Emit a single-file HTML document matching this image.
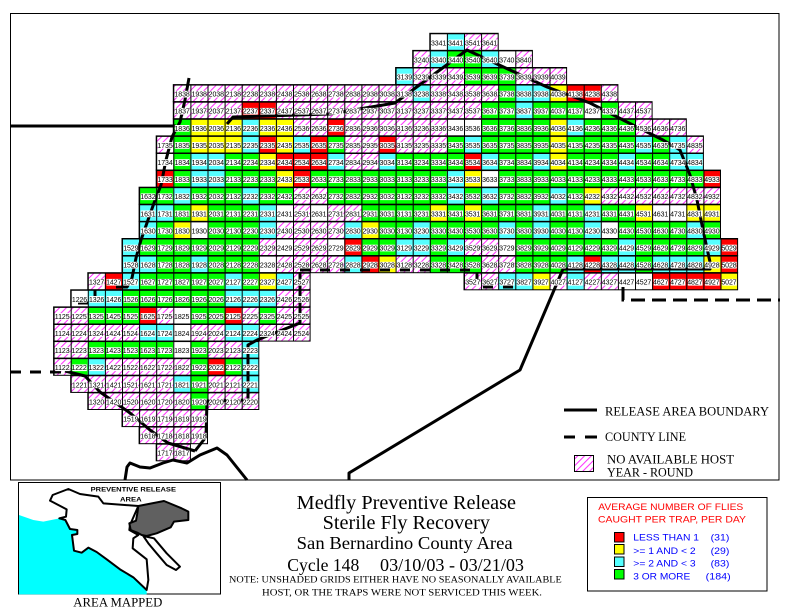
<!DOCTYPE html>
<html><head><meta charset="utf-8"><style>
html,body{margin:0;padding:0;background:#fff}
svg{display:block}
.G{fill:#00ff00}.Y{fill:#ffff00}.R{fill:#ff0000}.C{fill:#55ffff}.H{fill:url(#hat)}.W{fill:#fff}
.gr{fill:url(#grid);stroke:#000;stroke-width:1}
.lb{fill:url(#lab)}
text.n{font-family:"Liberation Sans",sans-serif;font-size:7px;fill:#000}
.sf{font-family:"Liberation Serif",serif;fill:#000}
.ss{font-family:"Liberation Sans",sans-serif}
.bl{fill:none;stroke:#000;stroke-width:3;stroke-linejoin:round;stroke-linecap:butt}
</style></head><body>
<svg width="790" height="614" viewBox="0 0 790 614" xmlns="http://www.w3.org/2000/svg">
<defs>
<pattern id="hat" patternUnits="userSpaceOnUse" width="6.8" height="6.8"><rect width="6.8" height="6.8" fill="#fff"/><path d="M-1,1 L1,-1 M0,6.8 L6.8,0 M5.8,7.8 L7.8,5.8" stroke="#ff00ff" stroke-width="0.8"/></pattern>
<pattern id="grid" patternUnits="userSpaceOnUse" width="17.1" height="17.1"><path d="M0.5,0 V17.1 M0,0.5 H17.1" stroke="#000" stroke-width="1" fill="none"/></pattern>
<pattern id="lab" patternUnits="userSpaceOnUse" width="17.1" height="17.1"><rect x="1.6" y="0" width="14.6" height="17.1" fill="#fff"/></pattern>
</defs>
<rect width="790" height="614" fill="#fff"/>
<rect x="10.5" y="13.5" width="768.5" height="466.5" fill="none" stroke="#000" stroke-width="1"/>

<g transform="translate(53.6,33.3)">
<g transform="translate(0,0)"><rect class="W" x="376.2" width="17.1" height="17.1"/><rect class="C" x="393.3" width="17.1" height="17.1"/><rect class="H" x="410.4" width="34.2" height="17.1"/><rect class="gr" x="376.2" width="68.4" height="17.1"/></g>
<g transform="translate(0,17.1)"><rect class="H" x="359.1" width="17.1" height="17.1"/><rect class="C" x="376.2" width="17.1" height="17.1"/><rect class="G" x="393.3" width="34.2" height="17.1"/><rect class="C" x="427.5" width="17.1" height="17.1"/><rect class="W" x="444.6" width="17.1" height="17.1"/><rect class="H" x="461.7" width="17.1" height="17.1"/><rect class="gr" x="359.1" width="119.7" height="17.1"/></g>
<g transform="translate(0,34.2)"><rect class="C" x="342" width="17.1" height="17.1"/><rect class="H" x="359.1" width="51.3" height="17.1"/><rect class="G" x="410.4" width="51.3" height="17.1"/><rect class="H" x="461.7" width="51.3" height="17.1"/><rect class="gr" x="342" width="171" height="17.1"/></g>
<g transform="translate(0,51.3)"><rect class="H" x="119.7" width="239.4" height="17.1"/><rect class="C" x="359.1" width="17.1" height="17.1"/><rect class="H" x="376.2" width="68.4" height="17.1"/><rect class="G" x="444.6" width="17.1" height="17.1"/><rect class="C" x="461.7" width="34.2" height="17.1"/><rect class="Y" x="495.9" width="17.1" height="17.1"/><rect class="R" x="513" width="34.2" height="17.1"/><rect class="H" x="547.2" width="17.1" height="17.1"/><rect class="gr" x="119.7" width="444.6" height="17.1"/></g>
<g transform="translate(0,68.4)"><rect class="H" x="119.7" width="68.4" height="17.1"/><rect class="R" x="188.1" width="34.2" height="17.1"/><rect class="H" x="222.3" width="205.2" height="17.1"/><rect class="G" x="427.5" width="34.2" height="17.1"/><rect class="C" x="461.7" width="17.1" height="17.1"/><rect class="G" x="478.8" width="51.3" height="17.1"/><rect class="W" x="530.1" width="17.1" height="17.1"/><rect class="G" x="547.2" width="17.1" height="17.1"/><rect class="H" x="564.3" width="34.2" height="17.1"/><rect class="gr" x="119.7" width="478.8" height="17.1"/></g>
<g transform="translate(0,85.5)"><rect class="G" x="119.7" width="17.1" height="17.1"/><rect class="Y" x="136.8" width="51.3" height="17.1"/><rect class="C" x="188.1" width="17.1" height="17.1"/><rect class="Y" x="205.2" width="34.2" height="17.1"/><rect class="H" x="239.4" width="34.2" height="17.1"/><rect class="R" x="273.6" width="17.1" height="17.1"/><rect class="H" x="290.7" width="102.6" height="17.1"/><rect class="W" x="393.3" width="34.2" height="17.1"/><rect class="G" x="427.5" width="68.4" height="17.1"/><rect class="Y" x="495.9" width="17.1" height="17.1"/><rect class="C" x="513" width="17.1" height="17.1"/><rect class="G" x="530.1" width="51.3" height="17.1"/><rect class="H" x="581.4" width="51.3" height="17.1"/><rect class="gr" x="119.7" width="513" height="17.1"/></g>
<g transform="translate(0,102.6)"><rect class="H" x="102.6" width="17.1" height="17.1"/><rect class="G" x="119.7" width="17.1" height="17.1"/><rect class="Y" x="136.8" width="51.3" height="17.1"/><rect class="C" x="188.1" width="17.1" height="17.1"/><rect class="R" x="205.2" width="17.1" height="17.1"/><rect class="Y" x="222.3" width="17.1" height="17.1"/><rect class="C" x="239.4" width="17.1" height="17.1"/><rect class="R" x="256.5" width="17.1" height="17.1"/><rect class="G" x="273.6" width="17.1" height="17.1"/><rect class="H" x="290.7" width="34.2" height="17.1"/><rect class="R" x="324.9" width="17.1" height="17.1"/><rect class="H" x="342" width="51.3" height="17.1"/><rect class="G" x="393.3" width="17.1" height="17.1"/><rect class="C" x="410.4" width="17.1" height="17.1"/><rect class="G" x="427.5" width="68.4" height="17.1"/><rect class="Y" x="495.9" width="17.1" height="17.1"/><rect class="G" x="513" width="68.4" height="17.1"/><rect class="C" x="581.4" width="17.1" height="17.1"/><rect class="G" x="598.5" width="17.1" height="17.1"/><rect class="C" x="615.6" width="17.1" height="17.1"/><rect class="H" x="632.7" width="17.1" height="17.1"/><rect class="gr" x="102.6" width="547.2" height="17.1"/></g>
<g transform="translate(0,119.7)"><rect class="W" x="102.6" width="17.1" height="17.1"/><rect class="G" x="119.7" width="17.1" height="17.1"/><rect class="C" x="136.8" width="34.2" height="17.1"/><rect class="G" x="171" width="34.2" height="17.1"/><rect class="Y" x="205.2" width="17.1" height="17.1"/><rect class="R" x="222.3" width="51.3" height="17.1"/><rect class="C" x="273.6" width="17.1" height="17.1"/><rect class="H" x="290.7" width="34.2" height="17.1"/><rect class="C" x="324.9" width="17.1" height="17.1"/><rect class="G" x="342" width="68.4" height="17.1"/><rect class="R" x="410.4" width="17.1" height="17.1"/><rect class="C" x="427.5" width="17.1" height="17.1"/><rect class="G" x="444.6" width="34.2" height="17.1"/><rect class="C" x="478.8" width="17.1" height="17.1"/><rect class="Y" x="495.9" width="17.1" height="17.1"/><rect class="G" x="513" width="51.3" height="17.1"/><rect class="C" x="564.3" width="17.1" height="17.1"/><rect class="G" x="581.4" width="34.2" height="17.1"/><rect class="C" x="615.6" width="34.2" height="17.1"/><rect class="gr" x="102.6" width="547.2" height="17.1"/></g>
<g transform="translate(0,136.8)"><rect class="R" x="102.6" width="17.1" height="17.1"/><rect class="G" x="119.7" width="17.1" height="17.1"/><rect class="C" x="136.8" width="34.2" height="17.1"/><rect class="G" x="171" width="51.3" height="17.1"/><rect class="Y" x="222.3" width="17.1" height="17.1"/><rect class="R" x="239.4" width="17.1" height="17.1"/><rect class="G" x="256.5" width="136.8" height="17.1"/><rect class="C" x="393.3" width="17.1" height="17.1"/><rect class="Y" x="410.4" width="17.1" height="17.1"/><rect class="W" x="427.5" width="17.1" height="17.1"/><rect class="G" x="444.6" width="205.2" height="17.1"/><rect class="R" x="649.8" width="17.1" height="17.1"/><rect class="gr" x="102.6" width="564.3" height="17.1"/></g>
<g transform="translate(0,153.9)"><rect class="G" x="85.5" width="34.2" height="17.1"/><rect class="C" x="119.7" width="17.1" height="17.1"/><rect class="G" x="136.8" width="51.3" height="17.1"/><rect class="C" x="188.1" width="17.1" height="17.1"/><rect class="G" x="205.2" width="34.2" height="17.1"/><rect class="H" x="239.4" width="34.2" height="17.1"/><rect class="G" x="273.6" width="119.7" height="17.1"/><rect class="C" x="393.3" width="17.1" height="17.1"/><rect class="G" x="410.4" width="17.1" height="17.1"/><rect class="C" x="427.5" width="17.1" height="17.1"/><rect class="G" x="444.6" width="51.3" height="17.1"/><rect class="C" x="495.9" width="17.1" height="17.1"/><rect class="G" x="513" width="17.1" height="17.1"/><rect class="Y" x="530.1" width="17.1" height="17.1"/><rect class="H" x="547.2" width="119.7" height="17.1"/><rect class="gr" x="85.5" width="581.4" height="17.1"/></g>
<g transform="translate(0,171)"><rect class="C" x="85.5" width="34.2" height="17.1"/><rect class="G" x="119.7" width="17.1" height="17.1"/><rect class="Y" x="136.8" width="17.1" height="17.1"/><rect class="G" x="153.9" width="51.3" height="17.1"/><rect class="C" x="205.2" width="17.1" height="17.1"/><rect class="W" x="222.3" width="17.1" height="17.1"/><rect class="H" x="239.4" width="17.1" height="17.1"/><rect class="W" x="256.5" width="17.1" height="17.1"/><rect class="H" x="273.6" width="34.2" height="17.1"/><rect class="G" x="307.8" width="68.4" height="17.1"/><rect class="Y" x="376.2" width="17.1" height="17.1"/><rect class="G" x="393.3" width="17.1" height="17.1"/><rect class="Y" x="410.4" width="17.1" height="17.1"/><rect class="G" x="427.5" width="51.3" height="17.1"/><rect class="C" x="478.8" width="17.1" height="17.1"/><rect class="G" x="495.9" width="34.2" height="17.1"/><rect class="C" x="530.1" width="17.1" height="17.1"/><rect class="G" x="547.2" width="34.2" height="17.1"/><rect class="Y" x="581.4" width="17.1" height="17.1"/><rect class="W" x="598.5" width="34.2" height="17.1"/><rect class="Y" x="632.7" width="34.2" height="17.1"/><rect class="gr" x="85.5" width="581.4" height="17.1"/></g>
<g transform="translate(0,188.1)"><rect class="C" x="85.5" width="17.1" height="17.1"/><rect class="G" x="102.6" width="17.1" height="17.1"/><rect class="Y" x="119.7" width="17.1" height="17.1"/><rect class="W" x="136.8" width="17.1" height="17.1"/><rect class="G" x="153.9" width="51.3" height="17.1"/><rect class="C" x="205.2" width="17.1" height="17.1"/><rect class="H" x="222.3" width="68.4" height="17.1"/><rect class="C" x="290.7" width="17.1" height="17.1"/><rect class="Y" x="307.8" width="17.1" height="17.1"/><rect class="G" x="324.9" width="34.2" height="17.1"/><rect class="C" x="359.1" width="17.1" height="17.1"/><rect class="G" x="376.2" width="68.4" height="17.1"/><rect class="C" x="444.6" width="17.1" height="17.1"/><rect class="G" x="461.7" width="17.1" height="17.1"/><rect class="C" x="478.8" width="17.1" height="17.1"/><rect class="G" x="495.9" width="34.2" height="17.1"/><rect class="C" x="530.1" width="17.1" height="17.1"/><rect class="W" x="547.2" width="17.1" height="17.1"/><rect class="G" x="564.3" width="68.4" height="17.1"/><rect class="C" x="632.7" width="17.1" height="17.1"/><rect class="G" x="649.8" width="17.1" height="17.1"/><rect class="gr" x="85.5" width="581.4" height="17.1"/></g>
<g transform="translate(0,205.2)"><rect class="C" x="68.4" width="17.1" height="17.1"/><rect class="G" x="85.5" width="119.7" height="17.1"/><rect class="H" x="205.2" width="17.1" height="17.1"/><rect class="W" x="222.3" width="17.1" height="17.1"/><rect class="H" x="239.4" width="34.2" height="17.1"/><rect class="W" x="273.6" width="17.1" height="17.1"/><rect class="R" x="290.7" width="17.1" height="17.1"/><rect class="G" x="307.8" width="34.2" height="17.1"/><rect class="C" x="342" width="34.2" height="17.1"/><rect class="G" x="376.2" width="17.1" height="17.1"/><rect class="C" x="393.3" width="17.1" height="17.1"/><rect class="H" x="410.4" width="34.2" height="17.1"/><rect class="W" x="444.6" width="17.1" height="17.1"/><rect class="G" x="461.7" width="102.6" height="17.1"/><rect class="C" x="564.3" width="17.1" height="17.1"/><rect class="G" x="581.4" width="68.4" height="17.1"/><rect class="C" x="649.8" width="17.1" height="17.1"/><rect class="R" x="666.9" width="17.1" height="17.1"/><rect class="gr" x="68.4" width="615.6" height="17.1"/></g>
<g transform="translate(0,222.3)"><rect class="C" x="68.4" width="34.2" height="17.1"/><rect class="G" x="102.6" width="34.2" height="17.1"/><rect class="C" x="136.8" width="17.1" height="17.1"/><rect class="G" x="153.9" width="51.3" height="17.1"/><rect class="W" x="205.2" width="17.1" height="17.1"/><rect class="H" x="222.3" width="68.4" height="17.1"/><rect class="C" x="290.7" width="17.1" height="17.1"/><rect class="R" x="307.8" width="17.1" height="17.1"/><rect class="Y" x="324.9" width="17.1" height="17.1"/><rect class="H" x="342" width="34.2" height="17.1"/><rect class="G" x="376.2" width="51.3" height="17.1"/><rect class="H" x="427.5" width="34.2" height="17.1"/><rect class="G" x="461.7" width="51.3" height="17.1"/><rect class="C" x="513" width="17.1" height="17.1"/><rect class="R" x="530.1" width="17.1" height="17.1"/><rect class="C" x="547.2" width="34.2" height="17.1"/><rect class="G" x="581.4" width="17.1" height="17.1"/><rect class="C" x="598.5" width="51.3" height="17.1"/><rect class="Y" x="649.8" width="17.1" height="17.1"/><rect class="R" x="666.9" width="17.1" height="17.1"/><rect class="gr" x="68.4" width="615.6" height="17.1"/></g>
<g transform="translate(0,239.4)"><rect class="H" x="34.2" width="17.1" height="17.1"/><rect class="R" x="51.3" width="17.1" height="17.1"/><rect class="C" x="68.4" width="17.1" height="17.1"/><rect class="G" x="85.5" width="85.5" height="17.1"/><rect class="C" x="171" width="17.1" height="17.1"/><rect class="G" x="188.1" width="17.1" height="17.1"/><rect class="Y" x="205.2" width="17.1" height="17.1"/><rect class="C" x="222.3" width="17.1" height="17.1"/><rect class="H" x="239.4" width="17.1" height="17.1"/><rect class="gr" x="34.2" width="222.3" height="17.1"/>
<rect class="H" x="410.4" width="34.2" height="17.1"/><rect class="C" x="444.6" width="34.2" height="17.1"/><rect class="Y" x="478.8" width="17.1" height="17.1"/><rect class="H" x="495.9" width="17.1" height="17.1"/><rect class="C" x="513" width="17.1" height="17.1"/><rect class="H" x="530.1" width="34.2" height="17.1"/><rect class="W" x="564.3" width="34.2" height="17.1"/><rect class="R" x="598.5" width="68.4" height="17.1"/><rect class="Y" x="666.9" width="17.1" height="17.1"/><rect class="gr" x="410.4" width="273.6" height="17.1"/></g>
<g transform="translate(0,256.5)"><rect class="W" x="17.1" width="17.1" height="17.1"/><rect class="C" x="34.2" width="34.2" height="17.1"/><rect class="G" x="68.4" width="102.6" height="17.1"/><rect class="C" x="171" width="51.3" height="17.1"/><rect class="H" x="222.3" width="34.2" height="17.1"/><rect class="gr" x="17.1" width="239.4" height="17.1"/></g>
<g transform="translate(0,273.6)"><rect class="H" x="0" width="34.2" height="17.1"/><rect class="G" x="34.2" width="51.3" height="17.1"/><rect class="R" x="85.5" width="17.1" height="17.1"/><rect class="H" x="102.6" width="17.1" height="17.1"/><rect class="W" x="119.7" width="17.1" height="17.1"/><rect class="G" x="136.8" width="34.2" height="17.1"/><rect class="R" x="171" width="17.1" height="17.1"/><rect class="H" x="188.1" width="17.1" height="17.1"/><rect class="G" x="205.2" width="17.1" height="17.1"/><rect class="H" x="222.3" width="34.2" height="17.1"/><rect class="gr" x="0" width="256.5" height="17.1"/></g>
<g transform="translate(0,290.7)"><rect class="H" x="0" width="85.5" height="17.1"/><rect class="C" x="85.5" width="34.2" height="17.1"/><rect class="W" x="119.7" width="17.1" height="17.1"/><rect class="H" x="136.8" width="34.2" height="17.1"/><rect class="C" x="171" width="34.2" height="17.1"/><rect class="H" x="205.2" width="51.3" height="17.1"/><rect class="gr" x="0" width="256.5" height="17.1"/></g>
<g transform="translate(0,307.8)"><rect class="H" x="0" width="34.2" height="17.1"/><rect class="G" x="34.2" width="85.5" height="17.1"/><rect class="W" x="119.7" width="17.1" height="17.1"/><rect class="G" x="136.8" width="17.1" height="17.1"/><rect class="H" x="153.9" width="34.2" height="17.1"/><rect class="C" x="188.1" width="17.1" height="17.1"/><rect class="gr" x="0" width="205.2" height="17.1"/></g>
<g transform="translate(0,324.9)"><rect class="H" x="0" width="17.1" height="17.1"/><rect class="G" x="17.1" width="17.1" height="17.1"/><rect class="C" x="34.2" width="17.1" height="17.1"/><rect class="H" x="51.3" width="85.5" height="17.1"/><rect class="G" x="136.8" width="17.1" height="17.1"/><rect class="R" x="153.9" width="17.1" height="17.1"/><rect class="G" x="171" width="17.1" height="17.1"/><rect class="C" x="188.1" width="17.1" height="17.1"/><rect class="gr" x="0" width="205.2" height="17.1"/></g>
<g transform="translate(0,342)"><rect class="H" x="17.1" width="102.6" height="17.1"/><rect class="C" x="119.7" width="17.1" height="17.1"/><rect class="G" x="136.8" width="17.1" height="17.1"/><rect class="H" x="153.9" width="34.2" height="17.1"/><rect class="C" x="188.1" width="17.1" height="17.1"/><rect class="gr" x="17.1" width="188.1" height="17.1"/></g>
<g transform="translate(0,359.1)"><rect class="H" x="34.2" width="102.6" height="17.1"/><rect class="G" x="136.8" width="17.1" height="17.1"/><rect class="H" x="153.9" width="51.3" height="17.1"/><rect class="gr" x="34.2" width="171" height="17.1"/></g>
<g transform="translate(0,376.2)"><rect class="H" x="68.4" width="85.5" height="17.1"/><rect class="gr" x="68.4" width="85.5" height="17.1"/></g>
<g transform="translate(0,393.3)"><rect class="H" x="85.5" width="68.4" height="17.1"/><rect class="gr" x="85.5" width="68.4" height="17.1"/></g>
<g transform="translate(0,410.4)"><rect class="H" x="102.6" width="34.2" height="17.1"/><rect class="gr" x="102.6" width="34.2" height="17.1"/></g>
</g>

<!-- release area boundary lines -->
<path class="bl" d="M10,126 H176"/>
<path class="bl" d="M189,78 L185,100 L180,122 L172,137 L166,160 L161,185 L154,203 L148,220 L141,240 L136,258 L132,278 L127,287 L116,287"/>
<path class="bl" d="M227,124 L233,117 L330,114 L395,103 L467,50 L510,70 L547,87 L590,103 L627,122 L663,140 L680,150 L690,175 L697,200 L703,230 L710,262 L710,269 L563,269 L520,370 L349,473 L349,480"/>
<path class="bl" d="M125,480 L127,467 L130,463 L140,467 L150,468 L163,463 L173,460 L187,463 L200,455 L217,448 L227,455 L247,480"/>
<path class="bl" d="M65,371 L85,376 L100,392 L130,413 L150,430 L168,443 L195,451"/>
<path class="bl" d="M300,272 L300,323 L257,340 L248,345 L248,400 L207,401 L206,437 L195,451"/>
<!-- county line -->
<path d="M300,270 H477 V287 H515" fill="none" stroke="#000" stroke-width="3" stroke-dasharray="10 10"/>
<path d="M623,287 V300 H780" fill="none" stroke="#000" stroke-width="3" stroke-dasharray="14 7"/>
<path d="M10,372 H62" fill="none" stroke="#000" stroke-width="3" stroke-dasharray="11 9"/>
<path d="M78,303 H88 M95,290 V296" fill="none" stroke="#000" stroke-width="3"/>

<g transform="translate(53.6,33.3)">
<rect class="lb" x="376.2" y="6.2" width="68.4" height="6.7"/>
<rect class="lb" x="359.1" y="23.3" width="119.7" height="6.7"/>
<rect class="lb" x="342" y="40.4" width="171" height="6.7"/>
<rect class="lb" x="119.7" y="57.5" width="444.6" height="6.7"/>
<rect class="lb" x="119.7" y="74.6" width="478.8" height="6.7"/>
<rect class="lb" x="119.7" y="91.7" width="513" height="6.7"/>
<rect class="lb" x="102.6" y="108.8" width="547.2" height="6.7"/>
<rect class="lb" x="102.6" y="125.9" width="547.2" height="6.7"/>
<rect class="lb" x="102.6" y="143" width="564.3" height="6.7"/>
<rect class="lb" x="85.5" y="160.1" width="581.4" height="6.7"/>
<rect class="lb" x="85.5" y="177.2" width="581.4" height="6.7"/>
<rect class="lb" x="85.5" y="194.3" width="581.4" height="6.7"/>
<rect class="lb" x="68.4" y="211.4" width="615.6" height="6.7"/>
<rect class="lb" x="68.4" y="228.5" width="615.6" height="6.7"/>
<rect class="lb" x="34.2" y="245.6" width="222.3" height="6.7"/>
<rect class="lb" x="410.4" y="245.6" width="273.6" height="6.7"/>
<rect class="lb" x="17.1" y="262.7" width="239.4" height="6.7"/>
<rect class="lb" x="0" y="279.8" width="256.5" height="6.7"/>
<rect class="lb" x="0" y="296.9" width="256.5" height="6.7"/>
<rect class="lb" x="0" y="314" width="205.2" height="6.7"/>
<rect class="lb" x="0" y="331.1" width="205.2" height="6.7"/>
<rect class="lb" x="17.1" y="348.2" width="188.1" height="6.7"/>
<rect class="lb" x="34.2" y="365.3" width="171" height="6.7"/>
<rect class="lb" x="68.4" y="382.4" width="85.5" height="6.7"/>
<rect class="lb" x="85.5" y="399.5" width="68.4" height="6.7"/>
<rect class="lb" x="102.6" y="416.6" width="34.2" height="6.7"/>

<text class="n" x="377.4" y="12" textLength="66.3" lengthAdjust="spacing">3341 3441 3541 3641</text>
<text class="n" x="360.3" y="29.1" textLength="117.6" lengthAdjust="spacing">3240 3340 3440 3540 3640 3740 3840</text>
<text class="n" x="343.2" y="46.2" textLength="168.9" lengthAdjust="spacing">3139 3239 3339 3439 3539 3639 3739 3839 3939 4039</text>
<text class="n" x="120.9" y="63.3" textLength="442.5" lengthAdjust="spacing">1838 1938 2038 2138 2238 2338 2438 2538 2638 2738 2838 2938 3038 3138 3238 3338 3438 3538 3638 3738 3838 3938 4038 4138 4238 4338</text>
<text class="n" x="120.9" y="80.4" textLength="476.7" lengthAdjust="spacing">1837 1937 2037 2137 2237 2337 2437 2537 2637 2737 2837 2937 3037 3137 3237 3337 3437 3537 3637 3737 3837 3937 4037 4137 4237 4337 4437 4537</text>
<text class="n" x="120.9" y="97.5" textLength="510.9" lengthAdjust="spacing">1836 1936 2036 2136 2236 2336 2436 2536 2636 2736 2836 2936 3036 3136 3236 3336 3436 3536 3636 3736 3836 3936 4036 4136 4236 4336 4436 4536 4636 4736</text>
<text class="n" x="103.8" y="114.6" textLength="545.1" lengthAdjust="spacing">1735 1835 1935 2035 2135 2235 2335 2435 2535 2635 2735 2835 2935 3035 3135 3235 3335 3435 3535 3635 3735 3835 3935 4035 4135 4235 4335 4435 4535 4635 4735 4835</text>
<text class="n" x="103.8" y="131.7" textLength="545.1" lengthAdjust="spacing">1734 1834 1934 2034 2134 2234 2334 2434 2534 2634 2734 2834 2934 3034 3134 3234 3334 3434 3534 3634 3734 3834 3934 4034 4134 4234 4334 4434 4534 4634 4734 4834</text>
<text class="n" x="103.8" y="148.8" textLength="562.2" lengthAdjust="spacing">1733 1833 1933 2033 2133 2233 2333 2433 2533 2633 2733 2833 2933 3033 3133 3233 3333 3433 3533 3633 3733 3833 3933 4033 4133 4233 4333 4433 4533 4633 4733 4833 4933</text>
<text class="n" x="86.7" y="165.9" textLength="579.3" lengthAdjust="spacing">1632 1732 1832 1932 2032 2132 2232 2332 2432 2532 2632 2732 2832 2932 3032 3132 3232 3332 3432 3532 3632 3732 3832 3932 4032 4132 4232 4332 4432 4532 4632 4732 4832 4932</text>
<text class="n" x="86.7" y="183" textLength="579.3" lengthAdjust="spacing">1631 1731 1831 1931 2031 2131 2231 2331 2431 2531 2631 2731 2831 2931 3031 3131 3231 3331 3431 3531 3631 3731 3831 3931 4031 4131 4231 4331 4431 4531 4631 4731 4831 4931</text>
<text class="n" x="86.7" y="200.1" textLength="579.3" lengthAdjust="spacing">1630 1730 1830 1930 2030 2130 2230 2330 2430 2530 2630 2730 2830 2930 3030 3130 3230 3330 3430 3530 3630 3730 3830 3930 4030 4130 4230 4330 4430 4530 4630 4730 4830 4930</text>
<text class="n" x="69.6" y="217.2" textLength="613.5" lengthAdjust="spacing">1529 1629 1729 1829 1929 2029 2129 2229 2329 2429 2529 2629 2729 2829 2929 3029 3129 3229 3329 3429 3529 3629 3729 3829 3929 4029 4129 4229 4329 4429 4529 4629 4729 4829 4929 5029</text>
<text class="n" x="69.6" y="234.3" textLength="613.5" lengthAdjust="spacing">1528 1628 1728 1828 1928 2028 2128 2228 2328 2428 2528 2628 2728 2828 2928 3028 3128 3228 3328 3428 3528 3628 3728 3828 3928 4028 4128 4228 4328 4428 4528 4628 4728 4828 4928 5028</text>
<text class="n" x="35.4" y="251.4" textLength="220.2" lengthAdjust="spacing">1327 1427 1527 1627 1727 1827 1927 2027 2127 2227 2327 2427 2527</text>
<text class="n" x="411.6" y="251.4" textLength="271.5" lengthAdjust="spacing">3527 3627 3727 3827 3927 4027 4127 4227 4327 4427 4527 4627 4727 4827 4927 5027</text>
<text class="n" x="18.3" y="268.5" textLength="237.3" lengthAdjust="spacing">1226 1326 1426 1526 1626 1726 1826 1926 2026 2126 2226 2326 2426 2526</text>
<text class="n" x="1.2" y="285.6" textLength="254.4" lengthAdjust="spacing">1125 1225 1325 1425 1525 1625 1725 1825 1925 2025 2125 2225 2325 2425 2525</text>
<text class="n" x="1.2" y="302.7" textLength="254.4" lengthAdjust="spacing">1124 1224 1324 1424 1524 1624 1724 1824 1924 2024 2124 2224 2324 2424 2524</text>
<text class="n" x="1.2" y="319.8" textLength="203.1" lengthAdjust="spacing">1123 1223 1323 1423 1523 1623 1723 1823 1923 2023 2123 2223</text>
<text class="n" x="1.2" y="336.9" textLength="203.1" lengthAdjust="spacing">1122 1222 1322 1422 1522 1622 1722 1822 1922 2022 2122 2222</text>
<text class="n" x="18.3" y="354" textLength="186" lengthAdjust="spacing">1221 1321 1421 1521 1621 1721 1821 1921 2021 2121 2221</text>
<text class="n" x="35.4" y="371.1" textLength="168.9" lengthAdjust="spacing">1320 1420 1520 1620 1720 1820 1920 2020 2120 2220</text>
<text class="n" x="69.6" y="388.2" textLength="83.4" lengthAdjust="spacing">1519 1619 1719 1819 1919</text>
<text class="n" x="86.7" y="405.3" textLength="66.3" lengthAdjust="spacing">1618 1718 1818 1918</text>
<text class="n" x="103.8" y="422.4" textLength="32.1" lengthAdjust="spacing">1717 1817</text>
</g>

<!-- line legend -->
<line x1="564" y1="410" x2="597" y2="410" stroke="#000" stroke-width="3"/>
<text class="sf" x="605" y="415.3" font-size="13" textLength="164" lengthAdjust="spacingAndGlyphs">RELEASE AREA BOUNDARY</text>
<path d="M564,437 H575 M585,437 H597" stroke="#000" stroke-width="3" fill="none"/>
<text class="sf" x="605" y="441" font-size="13" textLength="81" lengthAdjust="spacingAndGlyphs">COUNTY LINE</text>
<rect x="574.5" y="455.5" width="19" height="16" fill="url(#hat)" stroke="#000" stroke-width="1"/>
<text class="sf" x="607" y="463.3" font-size="13" textLength="127" lengthAdjust="spacingAndGlyphs">NO AVAILABLE HOST</text>
<text class="sf" x="607" y="476.7" font-size="13" textLength="86" lengthAdjust="spacingAndGlyphs">YEAR - ROUND</text>

<!-- inset map -->
<rect x="18.5" y="482.5" width="202" height="111.5" fill="#fff" stroke="#000" stroke-width="1"/>
<g transform="translate(0,470) scale(0.33333)">
<path d="M57,135 L100,150 L130,155 L178,145 L196,150 L210,177 L232,180 L232,192 L216,195 L222,242 L245,248 L265,233 L290,246 L320,268 L360,298 L400,322 L440,360 L440,373 L57,373 Z" fill="#00ffff"/>
<path d="M150,92 L158,75 L205,57 L240,72 L295,80 L310,100 L415,108 L390,165 L388,180 L415,195 L400,205 L398,235 L440,268 L445,330 L440,360 L400,322 L360,298 L320,268 L290,246 L265,233 L245,248 L222,242 L216,195 L232,192 L232,180 L210,177 L196,150 L178,145 L198,140 L200,118 L175,105 Z" fill="#fff" stroke="#000" stroke-width="6" stroke-linejoin="round"/>
<path d="M415,108 L492,93 L545,115 L565,125 L565,150 L522,155 L512,172 L470,190 L440,198 L425,195 L412,188 L392,180 L388,160 L408,152 L412,130 Z" fill="#606060" stroke="#000" stroke-width="6" stroke-linejoin="round"/>
<path d="M430,198 L462,205 L500,250 L540,290 L528,300 L500,285 L470,250 L445,220 Z" fill="#fff" stroke="#000" stroke-width="6" stroke-linejoin="round"/>
<text x="272" y="65" font-family="Liberation Sans, sans-serif" font-weight="bold" font-size="20" textLength="256" lengthAdjust="spacingAndGlyphs">PREVENTIVE RELEASE</text>
<text x="360" y="95" font-family="Liberation Sans, sans-serif" font-weight="bold" font-size="20" textLength="65" lengthAdjust="spacingAndGlyphs">AREA</text>
</g>
<text class="sf" x="73.3" y="606.7" font-size="13" textLength="89" lengthAdjust="spacingAndGlyphs">AREA MAPPED</text>

<!-- titles -->
<text class="sf" x="296.7" y="509" font-size="20" textLength="219.3" lengthAdjust="spacingAndGlyphs">Medfly Preventive Release</text>
<text class="sf" x="322.7" y="529" font-size="20" textLength="167.3" lengthAdjust="spacingAndGlyphs">Sterile Fly Recovery</text>
<text class="sf" x="296.7" y="549.2" font-size="18" textLength="216" lengthAdjust="spacingAndGlyphs">San Bernardino County Area</text>
<text class="sf" x="287.3" y="571" font-size="18" textLength="72" lengthAdjust="spacingAndGlyphs">Cycle 148</text>
<text class="sf" x="380" y="571" font-size="18" textLength="144" lengthAdjust="spacingAndGlyphs">03/10/03 - 03/21/03</text>
<text class="sf" x="229" y="582.7" font-size="9" textLength="332.7" lengthAdjust="spacingAndGlyphs">NOTE: UNSHADED GRIDS EITHER HAVE NO SEASONALLY AVAILABLE</text>
<text class="sf" x="262" y="595.7" font-size="9" textLength="280" lengthAdjust="spacingAndGlyphs">HOST, OR THE TRAPS WERE NOT SERVICED THIS WEEK.</text>

<!-- flies legend -->
<rect x="587.5" y="497.5" width="179.5" height="93.5" fill="#fff" stroke="#000" stroke-width="1"/>
<text class="ss" x="598.3" y="510" font-size="9.5" fill="#ff0000" textLength="145" lengthAdjust="spacingAndGlyphs">AVERAGE NUMBER OF FLIES</text>
<text class="ss" x="598" y="522.3" font-size="9.5" fill="#ff0000" textLength="148" lengthAdjust="spacingAndGlyphs">CAUGHT PER TRAP, PER DAY</text>
<rect x="614.5" y="532.5" width="9.5" height="9.5" fill="#ff0000" stroke="#000"/>
<rect x="614.5" y="544.5" width="9.5" height="9.5" fill="#ffff00" stroke="#000"/>
<rect x="614.5" y="557" width="9.5" height="9.5" fill="#55ffff" stroke="#000"/>
<rect x="614.5" y="569.5" width="9.5" height="9.5" fill="#00ff00" stroke="#000"/>
<text class="ss" x="633.3" y="540.7" font-size="9.5" fill="#0000ff" textLength="65.7" lengthAdjust="spacingAndGlyphs">LESS THAN 1</text>
<text class="ss" x="633.3" y="554" font-size="9.5" fill="#0000ff" textLength="62.4" lengthAdjust="spacingAndGlyphs">&gt;= 1 AND &lt; 2</text>
<text class="ss" x="633.3" y="566.7" font-size="9.5" fill="#0000ff" textLength="62.4" lengthAdjust="spacingAndGlyphs">&gt;= 2 AND &lt; 3</text>
<text class="ss" x="633.3" y="579.3" font-size="9.5" fill="#0000ff" textLength="57" lengthAdjust="spacingAndGlyphs">3 OR MORE</text>
<text class="ss" x="710.7" y="540.7" font-size="9.5" fill="#0000ff" textLength="18.7" lengthAdjust="spacingAndGlyphs">(31)</text>
<text class="ss" x="710.7" y="554" font-size="9.5" fill="#0000ff" textLength="18.7" lengthAdjust="spacingAndGlyphs">(29)</text>
<text class="ss" x="710.7" y="566.7" font-size="9.5" fill="#0000ff" textLength="18.7" lengthAdjust="spacingAndGlyphs">(83)</text>
<text class="ss" x="705.7" y="579.3" font-size="9.5" fill="#0000ff" textLength="25" lengthAdjust="spacingAndGlyphs">(184)</text>
</svg>
</body></html>
